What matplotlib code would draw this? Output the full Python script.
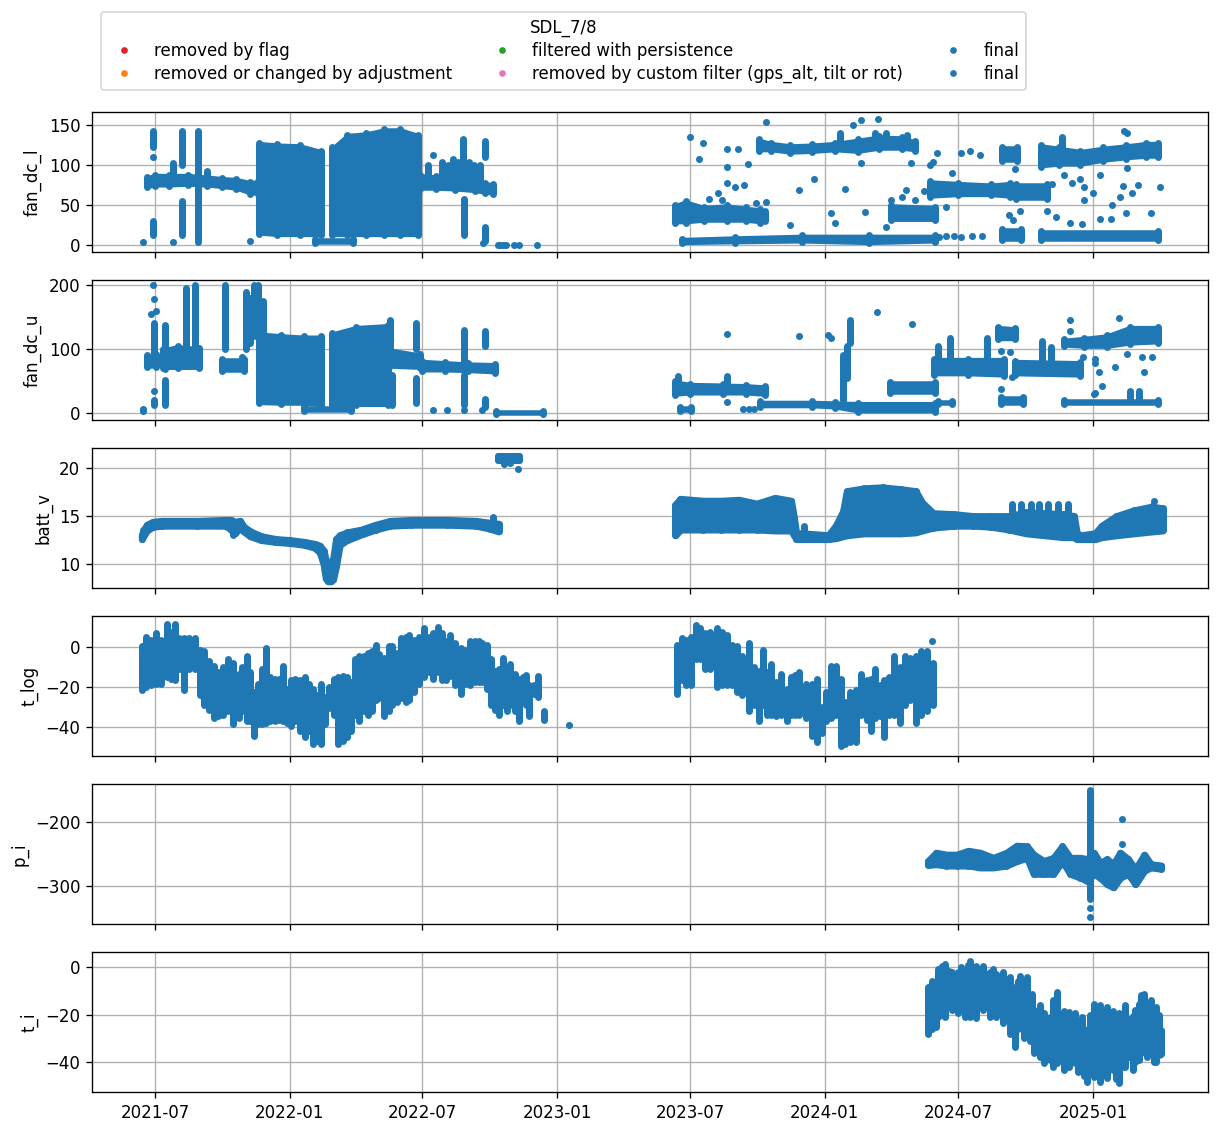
import numpy as np
import pandas as pd
import matplotlib
matplotlib.use("Agg")
import matplotlib.pyplot as plt
import matplotlib.dates as mdates
from matplotlib.lines import Line2D

# ---------------- data ----------------
# bands: (date, low, high) envelopes of dense point clouds; None separates segments
# strokes: (date, low, high) vertical runs of points; points: (date, value)

fanl_bands = [
    ("2021-06-20", 72, 85), ("2021-07-01", 74, 88), ("2021-07-20", 74, 88), ("2021-08-15", 75, 88),
    ("2021-09-10", 74, 86), ("2021-10-01", 72, 84), ("2021-10-20", 70, 83), ("2021-11-08", 64, 79),
    ("2021-11-18", 64, 80), ("2021-11-20", 14, 128), ("2021-12-15", 12, 126), ("2022-01-15", 12, 125),
    ("2022-02-12", 12, 118),
    None,
    ("2022-02-05", 3, 8), ("2022-03-28", 3, 8),
    None,
    ("2022-02-28", 12, 122), ("2022-03-20", 12, 138), ("2022-04-15", 12, 140), ("2022-05-10", 12, 145),
    ("2022-06-01", 12, 145), ("2022-06-25", 12, 138), ("2022-06-28", 70, 88), ("2022-07-20", 70, 86),
    ("2022-08-15", 69, 85), ("2022-09-10", 67, 82), ("2022-09-25", 65, 78), ("2022-10-05", 64, 76),
    None,
    ("2023-06-10", 28, 50), ("2023-06-25", 28, 55), ("2023-07-20", 30, 48), ("2023-08-20", 30, 50),
    ("2023-09-15", 30, 47), ("2023-10-05", 28, 45), ("2023-10-12", 30, 42),
    None,
    ("2023-06-20", 2, 8), ("2023-09-01", 3, 10), ("2023-12-01", 4, 12), ("2024-03-01", 2, 12),
    ("2024-05-30", 4, 12),
    None,
    ("2023-10-03", 118, 132), ("2023-10-20", 118, 128), ("2023-11-15", 115, 125), ("2023-12-15", 116, 126),
    ("2024-01-15", 118, 128), ("2024-02-15", 116, 132), ("2024-03-15", 120, 136), ("2024-04-15", 120, 135),
    ("2024-05-03", 118, 130),
    None,
    ("2024-04-01", 31, 50), ("2024-05-30", 31, 48),
    None,
    ("2024-05-23", 60, 80), ("2024-07-01", 62, 78), ("2024-08-15", 62, 76), ("2024-09-10", 60, 78),
    None,
    ("2024-09-18", 58, 76), ("2024-10-30", 58, 76),
    None,
    ("2024-08-30", 105, 122), ("2024-09-20", 105, 122),
    None,
    ("2024-08-30", 6, 20), ("2024-09-25", 6, 20),
    None,
    ("2024-10-22", 6, 18), ("2025-03-31", 6, 18),
    None,
    ("2024-10-22", 98, 125), ("2024-11-15", 100, 122), ("2024-12-15", 100, 118), ("2025-01-15", 105, 122),
    ("2025-02-15", 108, 125), ("2025-03-15", 110, 128), ("2025-03-31", 110, 128),
]
fanl_strokes = [
    ("2021-06-28", 123, 142), ("2021-06-28", 12, 30), ("2021-07-25", 80, 103), ("2021-08-07", 100, 143),
    ("2021-08-07", 12, 55), ("2021-08-28", 4, 142), ("2021-09-10", 80, 92), ("2022-07-09", 80, 100),
    ("2022-07-27", 80, 104), ("2022-08-05", 80, 100), ("2022-08-11", 80, 108), ("2022-08-18", 80, 104),
    ("2022-08-25", 80, 133), ("2022-08-26", 12, 58), ("2022-09-02", 80, 104), ("2022-09-09", 80, 100),
    ("2022-09-18", 78, 100), ("2022-09-24", 110, 130), ("2022-09-24", 5, 22), ("2024-01-22", 125, 140),
    ("2024-03-10", 125, 140), ("2024-03-25", 125, 140), ("2024-04-22", 125, 137), ("2024-11-20", 115, 135),
]
fanl_points = [
    ("2021-06-14", 4), ("2021-06-28", 110), ("2021-07-25", 4), ("2021-11-08", 5), ("2022-07-16", 113),
    ("2022-09-21", 3), ("2022-10-12", 0), ("2022-10-15", 0), ("2022-10-19", 0), ("2022-10-23", 0),
    ("2022-11-03", 0), ("2022-11-10", 0), ("2022-12-04", 0),
    ("2023-07-01", 135), ("2023-07-13", 107), ("2023-07-19", 127), ("2023-07-27", 58), ("2023-08-08", 65),
    ("2023-08-14", 56), ("2023-08-20", 120), ("2023-08-20", 97), ("2023-08-20", 78), ("2023-08-31", 72),
    ("2023-09-05", 120), ("2023-09-13", 75), ("2023-09-18", 101), ("2023-09-29", 52), ("2023-10-13", 154),
    ("2023-10-13", 54), ("2023-11-14", 25), ("2023-11-27", 69), ("2023-12-17", 83), ("2024-01-10", 40),
    ("2024-01-15", 28), ("2024-01-28", 70), ("2024-02-09", 150), ("2024-02-20", 102), ("2024-02-20", 156),
    ("2024-02-25", 41), ("2024-03-13", 158), ("2024-03-25", 22), ("2024-03-31", 56), ("2024-04-16", 60),
    ("2024-04-21", 69), ("2024-04-28", 103), ("2024-05-03", 56), ("2024-05-16", 67), ("2024-05-23", 100),
    ("2024-05-28", 104), ("2024-06-02", 115), ("2024-06-14", 47), ("2024-06-22", 90), ("2024-07-05", 115),
    ("2024-07-17", 117), ("2024-07-31", 112), ("2024-06-05", 10), ("2024-06-15", 11), ("2024-06-25", 11),
    ("2024-07-05", 10), ("2024-07-20", 11), ("2024-08-03", 11), ("2024-09-08", 37), ("2024-09-14", 31),
    ("2024-09-17", 95), ("2024-09-24", 42), ("2024-10-30", 42), ("2024-11-06", 76), ("2024-11-12", 35),
    ("2024-11-23", 87), ("2024-12-01", 27), ("2024-12-04", 77), ("2024-12-15", 83), ("2024-12-17", 26),
    ("2024-12-20", 73), ("2024-12-20", 56), ("2025-01-01", 65), ("2025-01-10", 33), ("2025-01-11", 87),
    ("2025-01-26", 33), ("2025-01-27", 50), ("2025-02-07", 60), ("2025-02-11", 74), ("2025-02-12", 142),
    ("2025-02-15", 40), ("2025-02-16", 96), ("2025-02-16", 140), ("2025-02-23", 65), ("2025-03-03", 75),
    ("2025-03-21", 40), ("2025-04-02", 72),
]

fanu_bands = [
    ("2021-06-20", 72, 90), ("2021-07-03", 72, 92),
    None,
    ("2021-07-12", 70, 100), ("2021-08-01", 70, 105), ("2021-08-30", 70, 102),
    None,
    ("2021-10-01", 65, 85), ("2021-10-30", 65, 85),
    None,
    ("2021-11-20", 15, 125), ("2021-12-20", 14, 122), ("2022-01-20", 14, 120), ("2022-02-12", 12, 120),
    None,
    ("2022-01-20", 3, 10), ("2022-03-25", 3, 10),
    None,
    ("2022-02-28", 12, 125), ("2022-04-01", 12, 135), ("2022-05-15", 12, 138), ("2022-05-16", 72, 100),
    ("2022-06-28", 70, 92), ("2022-07-01", 66, 82), ("2022-08-01", 66, 80), ("2022-09-01", 65, 78),
    ("2022-10-08", 63, 77),
    None,
    ("2022-10-10", -1, 3), ("2022-12-12", -1, 3),
    None,
    ("2023-06-10", 28, 50), ("2023-07-01", 30, 46), ("2023-08-15", 30, 45), ("2023-09-15", 30, 44),
    ("2023-10-12", 28, 42),
    None,
    ("2023-06-18", 3, 10), ("2023-07-03", 3, 10),
    None,
    ("2023-10-05", 10, 18), ("2023-12-15", 10, 18), ("2024-01-15", 8, 17), ("2024-02-15", 2, 16),
    ("2024-05-30", 2, 16),
    None,
    ("2024-03-30", 32, 48), ("2024-05-30", 32, 48),
    None,
    ("2024-06-03", 14, 18), ("2024-06-22", 14, 18),
    None,
    ("2024-05-29", 60, 85), ("2024-07-15", 60, 85), ("2024-09-02", 58, 85),
    None,
    ("2024-08-25", 115, 135), ("2024-09-17", 115, 133),
    None,
    ("2024-08-28", 14, 25), ("2024-09-28", 14, 25),
    None,
    ("2024-09-17", 60, 82), ("2024-12-15", 58, 80),
    None,
    ("2024-11-22", 14, 20), ("2025-03-31", 14, 20),
    None,
    ("2024-11-22", 105, 115), ("2024-12-20", 103, 118), ("2025-01-20", 103, 122), ("2025-02-20", 108, 135),
    ("2025-03-31", 110, 135),
]
fanu_strokes = [
    ("2021-06-30", 90, 140), ("2021-06-30", 12, 20), ("2021-07-15", 68, 138), ("2021-07-15", 12, 52),
    ("2021-08-12", 100, 195), ("2021-08-25", 100, 200), ("2021-10-05", 100, 200), ("2021-11-02", 100, 190),
    ("2021-11-08", 110, 180), ("2021-11-13", 120, 200), ("2021-11-18", 120, 200), ("2021-11-25", 110, 175),
    ("2022-05-20", 12, 60), ("2022-05-17", 100, 145), ("2022-06-22", 15, 55), ("2022-06-22", 100, 140),
    ("2022-08-27", 80, 130), ("2022-08-27", 12, 60), ("2022-09-24", 105, 128), ("2022-09-24", 10, 22),
    ("2023-06-15", 40, 58), ("2023-08-20", 40, 58), ("2024-01-26", 20, 90), ("2024-02-01", 55, 105),
    ("2024-02-05", 110, 145), ("2024-06-03", 80, 105), ("2024-06-20", 85, 118), ("2024-08-10", 85, 117),
    ("2024-10-24", 80, 113), ("2024-11-05", 80, 103), ("2025-02-20", 20, 35), ("2025-03-05", 20, 35),
]
fanu_points = [
    ("2021-06-15", 3), ("2021-06-15", 6), ("2021-06-28", 200), ("2021-06-29", 178), ("2021-07-02", 160),
    ("2021-06-26", 155), ("2021-06-30", 34), ("2021-10-28", 88), ("2022-07-16", 4), ("2022-08-04", 4),
    ("2022-08-26", 4), ("2022-09-20", 4), ("2023-08-20", 123), ("2023-08-20", 17), ("2023-09-12", 6),
    ("2023-09-20", 6), ("2023-09-27", 6), ("2023-11-27", 120), ("2024-01-05", 122), ("2024-01-10", 118),
    ("2024-03-12", 158), ("2024-04-29", 139), ("2024-08-28", 37), ("2024-08-28", 97), ("2024-09-10", 95),
    ("2024-09-13", 56), ("2024-11-30", 145), ("2024-11-30", 128), ("2024-12-19", 88), ("2025-01-04", 84),
    ("2025-01-04", 78), ("2025-01-04", 32), ("2025-01-14", 42), ("2025-01-09", 64), ("2025-01-31", 72),
    ("2025-02-17", 92), ("2025-03-09", 88), ("2025-03-12", 64), ("2025-03-22", 87), ("2025-02-05", 148),
    ("2025-01-03", 30),
]

battv_bands = [
    ("2021-06-13", 12.6, 13.0), ("2021-06-15", 12.9, 13.5), ("2021-06-20", 13.5, 14.1), ("2021-06-28", 13.9, 14.4),
    ("2021-07-10", 14.0, 14.5), ("2021-08-27", 14.0, 14.5), ("2021-10-05", 14.0, 14.6), ("2021-10-13", 13.6, 14.6),
    ("2021-10-18", 13.2, 14.4), ("2021-10-25", 13.8, 14.5), ("2021-10-30", 13.4, 13.9), ("2021-11-08", 12.9, 13.4),
    ("2021-11-23", 12.5, 12.9), ("2021-12-13", 12.3, 12.6), ("2022-01-01", 12.2, 12.5), ("2022-01-21", 12.0, 12.3),
    ("2022-02-04", 11.7, 12.1), ("2022-02-11", 11.2, 11.9), ("2022-02-16", 10.0, 11.4), ("2022-02-19", 8.5, 10.4),
    ("2022-02-22", 8.2, 9.2), ("2022-02-26", 8.2, 9.0), ("2022-03-01", 8.4, 10.5), ("2022-03-05", 9.8, 12.6),
    ("2022-03-10", 12.0, 13.0), ("2022-03-20", 12.5, 13.3), ("2022-04-09", 13.1, 13.6), ("2022-04-28", 13.6, 14.1),
    ("2022-05-18", 14.0, 14.5), ("2022-06-16", 14.1, 14.6), ("2022-08-04", 14.1, 14.6), ("2022-09-12", 14.0, 14.5),
    ("2022-10-01", 13.7, 14.3), ("2022-10-13", 13.4, 14.2),
    None,
    ("2022-10-12", 20.8, 21.3), ("2022-11-10", 20.8, 21.3),
    None,
    ("2023-06-11", 13.0, 16.2), ("2023-06-18", 13.6, 16.8), ("2023-07-19", 13.6, 16.6), ("2023-08-12", 13.6, 16.6),
    ("2023-09-06", 13.6, 16.7), ("2023-09-30", 13.6, 16.3), ("2023-10-25", 13.5, 16.9), ("2023-11-16", 13.5, 16.6),
    ("2023-11-20", 13.0, 14.8), ("2023-11-23", 12.6, 13.2), ("2023-12-03", 12.6, 13.2), ("2024-01-06", 12.6, 13.0),
    ("2024-01-16", 12.7, 14.0), ("2024-01-26", 12.9, 15.5), ("2024-01-31", 13.0, 17.6), ("2024-02-24", 13.2, 17.9),
    ("2024-03-20", 13.2, 18.0), ("2024-04-14", 13.2, 17.8), ("2024-05-04", 13.3, 17.6), ("2024-05-13", 13.5, 16.4),
    ("2024-05-28", 13.8, 15.3), ("2024-06-26", 14.0, 15.2), ("2024-07-21", 14.0, 15.0), ("2024-08-14", 13.9, 15.0),
    ("2024-09-08", 13.6, 15.0), ("2024-10-02", 13.2, 15.4), ("2024-10-27", 13.0, 15.3), ("2024-11-21", 12.8, 15.2),
    ("2024-12-06", 12.8, 15.0), ("2024-12-10", 12.6, 13.2), ("2024-12-15", 12.6, 13.0), ("2025-01-04", 12.6, 13.2),
    ("2025-01-13", 12.8, 14.0), ("2025-02-02", 13.0, 15.0), ("2025-02-26", 13.2, 15.6), ("2025-03-23", 13.4, 16.0),
    ("2025-04-06", 13.5, 15.8),
]
battv_strokes = [
    ("2021-10-15", 13.0, 14.2), ("2022-10-05", 14.0, 14.9), ("2023-12-04", 12.8, 14.0),
    ("2024-09-12", 14.0, 16.3), ("2024-09-25", 14.0, 16.3), ("2024-10-08", 14.0, 16.3), ("2024-10-20", 14.0, 16.3),
    ("2024-11-01", 14.0, 16.3), ("2024-11-14", 14.0, 16.3), ("2024-11-28", 14.0, 16.3),
]
battv_points = [("2022-11-08", 19.9), ("2022-10-20", 20.4), ("2022-10-28", 20.5), ("2025-03-25", 16.6)]

tlog_bands = []
tlog_strokes = [
    ("2021-06-13", -21.6, 0.3), ("2021-06-19", -20, 5.2), ("2021-06-26", -19.2, 3.6), ("2021-07-03", -18.4, 6.8),
    ("2021-07-09", -18.4, 3.6), ("2021-07-17", -15.1, 11.4), ("2021-07-23", -15.9, 7.6), ("2021-07-28", -16.7, 11.7),
    ("2021-08-03", -11, 4.4), ("2021-08-10", -21.6, 4.4), ("2021-08-17", -11, 4.4), ("2021-08-24", -11, 4.4),
    ("2021-08-31", -24, -1.3), ("2021-09-06", -29, -2.1), ("2021-09-12", -31.4, -7), ("2021-09-19", -35.4, -9.4),
    ("2021-09-25", -34.6, -12.7), ("2021-10-02", -33.8, -10.2), ("2021-10-09", -32.2, -6.2), ("2021-10-16", -38.7, -7.8),
    ("2021-10-23", -35.4, -13.5), ("2021-10-28", -32.2, -10.2), ("2021-11-03", -37, -4.6), ("2021-11-08", -37, -12.7),
    ("2021-11-13", -44.4, -22.4), ("2021-11-19", -38.7, -18.4), ("2021-11-24", -38.7, -11), ("2021-11-29", -37.9, -0.5),
    ("2021-12-05", -37, -15.1), ("2021-12-12", -37, -15.9), ("2021-12-17", -36.3, -15.9), ("2021-12-22", -37, -9.4),
    ("2021-12-28", -37.9, -20.8), ("2022-01-03", -39.5, -16.7), ("2022-01-08", -37, -15.9), ("2022-01-15", -42, -16.7),
    ("2022-01-22", -45.2, -15.1), ("2022-01-27", -42, -18.4), ("2022-02-01", -48.5, -20.8), ("2022-02-07", -46.8, -24),
    ("2022-02-13", -48.5, -18.4), ("2022-02-18", -38.7, -24.9), ("2022-02-24", -30.6, -20), ("2022-03-02", -33.8, -15.9),
    ("2022-03-08", -48.5, -15.1), ("2022-03-14", -46.8, -14.3), ("2022-03-20", -45.2, -15.1), ("2022-03-26", -42, -17.6),
    ("2022-03-31", -33.8, -6.2), ("2022-04-06", -37, -4.6), ("2022-04-12", -32.2, -4.6), ("2022-04-18", -33.8, -2.9),
    ("2022-04-23", -32.2, -2.1), ("2022-04-28", -26.5, 1.1), ("2022-05-03", -25.7, -3.7), ("2022-05-09", -34.6, -5.4),
    ("2022-05-16", -32.2, 0.3), ("2022-05-21", -29, 0.3), ("2022-05-27", -27.3, -2.9), ("2022-06-02", -25.7, 4.4),
    ("2022-06-08", -27.3, 5.2), ("2022-06-13", -26.5, 6), ("2022-06-19", -22.4, 3.6), ("2022-06-26", -18.4, 5.2),
    ("2022-07-03", -15.1, 9.3), ("2022-07-10", -12.7, 5.2), ("2022-07-15", -15.9, 6.8), ("2022-07-22", -12.7, 10.1),
    ("2022-07-28", -16.7, 6.8), ("2022-08-02", -16.7, 2.8), ("2022-08-08", -14.3, 6), ("2022-08-15", -19.2, 2),
    ("2022-08-23", -23.3, -0.5), ("2022-08-28", -18.4, -1.3), ("2022-09-04", -19.2, 2.8), ("2022-09-11", -17.6, 2.8),
    ("2022-09-16", -17.6, 2.8), ("2022-09-20", -17.6, 2), ("2022-09-27", -20.8, 1.1), ("2022-10-02", -29, -6.2),
    ("2022-10-08", -31.4, -11.9), ("2022-10-14", -33.8, -11), ("2022-10-19", -29, -5.4), ("2022-10-25", -32.2, -11.9),
    ("2022-10-29", -29, -8.6), ("2022-11-04", -32.2, -13.5), ("2022-11-10", -37, -15.9), ("2022-11-15", -21.6, -15.1),
    ("2022-11-19", -29, -14), ("2022-11-24", -34.6, -19.2), ("2022-11-30", -23.3, -19.2), ("2022-12-06", -24.9, -14.3),
    ("2022-12-10", -21, -21), ("2022-12-14", -36.3, -32.2),
    ("2023-06-14", -23.3, 1.1), ("2023-06-20", -16.7, 4.4), ("2023-06-25", -19.2, 3.6), ("2023-07-02", -19.2, 5.2),
    ("2023-07-09", -6.2, 10.9), ("2023-07-15", -6.2, 9.3), ("2023-07-22", -11, 6.8), ("2023-07-29", -11, 7.6),
    ("2023-08-07", -20, 9.3), ("2023-08-14", -19.2, 7.6), ("2023-08-21", -19.2, 6), ("2023-08-28", -19.2, 1.1),
    ("2023-09-03", -22.4, 0.3), ("2023-09-10", -24, -4.6), ("2023-09-19", -32, 2), ("2023-09-26", -29, -10.2),
    ("2023-10-03", -37, -11.9), ("2023-10-09", -29, -1.3), ("2023-10-14", -33.8, -12.7), ("2023-10-20", -33.8, -8.6),
    ("2023-10-26", -34.6, -17.6), ("2023-11-02", -33.8, -13.5), ("2023-11-10", -37, -20.8), ("2023-11-16", -33.8, -15.1),
    ("2023-11-21", -33.8, -14), ("2023-11-27", -33.8, -12.7), ("2023-12-06", -35.4, -18.4), ("2023-12-14", -44.4, -18.4),
    ("2023-12-21", -47.6, -15.9), ("2023-12-28", -42.8, -29.8), ("2024-01-03", -37, -22.4), ("2024-01-09", -35.4, -9.4),
    ("2024-01-16", -33.8, -9.4), ("2024-01-23", -49.3, -15.9), ("2024-01-29", -48.5, -27.3), ("2024-02-05", -47.6, -22.4),
    ("2024-02-12", -47.6, -21.6), ("2024-02-20", -33.8, -13.5), ("2024-02-27", -36.3, -16.7), ("2024-03-04", -42, -15.9),
    ("2024-03-10", -35.4, -11), ("2024-03-17", -34.6, -19.2), ("2024-03-22", -45.2, -16.7), ("2024-03-28", -33.8, -15.1),
    ("2024-04-05", -33.8, -4.6), ("2024-04-12", -37.9, -10.2), ("2024-04-19", -29, -4.6), ("2024-04-26", -26.5, -5.4),
    ("2024-05-05", -37.9, -4.6), ("2024-05-12", -33.8, -2.1), ("2024-05-19", -32.2, -2.1), ("2024-05-28", -29, -7.8),
]
tlog_points = [("2023-01-17", -39), ("2024-05-26", 2.8)]

pi_bands = [
    ("2024-05-21", -267, -261), ("2024-06-01", -266, -248), ("2024-06-15", -268, -251), ("2024-06-29", -268, -251),
    ("2024-07-15", -268, -245), ("2024-07-31", -271, -248), ("2024-08-18", -271, -256), ("2024-09-05", -268, -248),
    ("2024-09-19", -261, -237), ("2024-10-03", -256, -238), ("2024-10-12", -281, -251), ("2024-10-26", -281, -261),
    ("2024-11-08", -281, -256), ("2024-11-20", -261, -238), ("2024-12-01", -281, -256), ("2024-12-15", -287, -256),
    ("2024-12-24", -292, -258), ("2025-01-02", -281, -248), ("2025-01-11", -287, -264), ("2025-01-20", -297, -258),
    ("2025-01-29", -302, -266), ("2025-02-07", -287, -248), ("2025-02-18", -281, -258), ("2025-02-28", -297, -274),
    ("2025-03-12", -276, -251), ("2025-03-21", -271, -266), ("2025-04-04", -273, -268),
]
pi_strokes = [("2024-12-28", -320, -150)]
pi_points = [("2024-12-28", -334), ("2024-12-28", -349), ("2025-02-09", -196), ("2025-02-09", -234)]

ti_bands = []
ti_strokes = [
    ("2024-05-21", -28, -8.5), ("2024-05-26", -26, -6), ("2024-06-01", -25.2, -7.1), ("2024-06-04", -21, -0.8),
    ("2024-06-09", -20, 0.5), ("2024-06-13", -21, 1.3), ("2024-06-18", -16, -1.5), ("2024-06-22", -18.2, -2.2),
    ("2024-06-27", -15, -3), ("2024-07-01", -19.5, -2.2), ("2024-07-05", -16, 0), ("2024-07-10", -21, -1.5),
    ("2024-07-14", -18, 1), ("2024-07-17", -21, 2.7), ("2024-07-22", -17, -1), ("2024-07-26", -21.5, 0.5),
    ("2024-07-30", -16, -2), ("2024-08-04", -18.2, 0.5), ("2024-08-09", -15, -3), ("2024-08-13", -21, -2.2),
    ("2024-08-18", -17, -1), ("2024-08-22", -21, -2.9), ("2024-08-27", -18, -4), ("2024-08-31", -23.5, -2.2),
    ("2024-09-05", -20, -5), ("2024-09-10", -28, -4.3), ("2024-09-14", -24, -9), ("2024-09-17", -33.5, -8.5),
    ("2024-09-21", -26, -6), ("2024-09-24", -23.5, -3.6), ("2024-09-29", -30, -8), ("2024-10-03", -26.5, -4.3),
    ("2024-10-07", -31, -12), ("2024-10-10", -30.5, -11.3), ("2024-10-13", -36, -18), ("2024-10-16", -33.5, -19.5),
    ("2024-10-21", -38, -16), ("2024-10-26", -40.5, -19.5), ("2024-10-30", -36, -22), ("2024-11-04", -39.2, -21.2),
    ("2024-11-08", -42, -14), ("2024-11-13", -40.5, -10.5), ("2024-11-17", -38, -20), ("2024-11-22", -43.5, -18.5),
    ("2024-11-25", -40, -22), ("2024-11-29", -42, -19), ("2024-12-03", -38, -21), ("2024-12-08", -40.5, -19.5),
    ("2024-12-12", -44, -24), ("2024-12-17", -43.5, -21.2), ("2024-12-20", -46, -26), ("2024-12-24", -48.5, -31),
    ("2024-12-28", -44, -20), ("2025-01-02", -46.2, -15.5), ("2025-01-06", -42, -20), ("2025-01-11", -48.5, -16.2),
    ("2025-01-15", -44, -22), ("2025-01-20", -46.5, -16.9), ("2025-01-24", -40, -20), ("2025-01-29", -43.5, -18.5),
    ("2025-02-01", -47, -22), ("2025-02-05", -49, -19.5), ("2025-02-09", -42, -20), ("2025-02-14", -42, -16.2),
    ("2025-02-19", -38, -22), ("2025-02-24", -43.5, -20.5), ("2025-02-28", -40, -18), ("2025-03-05", -39.2, -15.5),
    ("2025-03-08", -36, -12), ("2025-03-12", -33.5, -11.3), ("2025-03-16", -38, -16), ("2025-03-21", -36.5, -14.1),
    ("2025-03-25", -40, -18), ("2025-03-28", -39.9, -16.9), ("2025-04-01", -37, -20), ("2025-04-04", -36.5, -26.5),
]
ti_points = []

panel_names = ["fan_dc_l", "fan_dc_u", "batt_v", "t_log", "p_i", "t_i"]
panel_ylims = [(-8.75, 166.25), (-11, 208), (7.5, 22.1), (-54.5, 15.5), (-359.4, -140.6), (-52.6, 6.3)]
panel_yticks = [[0, 50, 100, 150], [0, 100, 200], [10, 15, 20], [-40, -20, 0], [-300, -200], [-40, -20, 0]]
x_ticks = ["2021-07-01", "2022-01-01", "2022-07-01", "2023-01-01", "2023-07-01",
           "2024-01-01", "2024-07-01", "2025-01-01"]
x_range = ("2021-04-06", "2025-06-07")

legend_labels = ["removed by flag", "removed or changed by adjustment", "filtered with persistence",
                 "removed by custom filter (gps_alt, tilt or rot)", "final", "final"]
legend_colors = ["tab:red", "tab:orange", "tab:green", "tab:pink", "tab:blue", "tab:blue"]
legend_title = "SDL_7/8"

# ---------------- drawing ----------------
BLUE = "tab:blue"
DOT_LW = 4.2      # points; equals the marker diameter


def to_dt(seq):
    return pd.to_datetime(list(seq)).values


def segments(rows):
    segs, cur = [], []
    for r in rows:
        if r is None:
            if cur:
                segs.append(cur)
            cur = []
        else:
            cur.append(r)
    if cur:
        segs.append(cur)
    return segs


def draw(ax, bands, strokes, points, edge_lw):
    for seg in segments(bands):
        d = to_dt(r[0] for r in seg)
        lo = [r[1] for r in seg]
        hi = [r[2] for r in seg]
        ax.fill_between(d, lo, hi, facecolor=BLUE, edgecolor=BLUE, linewidth=edge_lw,
                        joinstyle="round", zorder=2)
        ax.vlines(d, lo, hi, colors=BLUE, linewidth=DOT_LW, capstyle="round", zorder=2)
    if strokes:
        ax.vlines(to_dt(r[0] for r in strokes), [r[1] for r in strokes], [r[2] for r in strokes],
                  colors=BLUE, linewidth=DOT_LW, capstyle="round", zorder=2)
    if points:
        ax.scatter(to_dt(r[0] for r in points), [r[1] for r in points], s=DOT_LW ** 2, color=BLUE,
                   linewidths=0, zorder=2)


W, H, DPI = 1220, 1131, 120
fig = plt.figure(figsize=(W / DPI, H / DPI), dpi=DPI)

series = [
    (fanl_bands, fanl_strokes, fanl_points, 1.5),
    (fanu_bands, fanu_strokes, fanu_points, 1.5),
    (battv_bands, battv_strokes, battv_points, DOT_LW),
    (tlog_bands, tlog_strokes, tlog_points, 1.5),
    (pi_bands, pi_strokes, pi_points, DOT_LW),
    (ti_bands, ti_strokes, ti_points, 1.5),
]

axes = []
left_px, right_px, top0, h_px, step = 92, 1208, 112, 140, 168
for i, (b, s, p, elw) in enumerate(series):
    top = top0 + step * i
    rect = [left_px / W, 1 - (top + h_px) / H, (right_px - left_px) / W, h_px / H]
    ax = fig.add_axes(rect, sharex=axes[0] if axes else None)
    draw(ax, b, s, p, elw)
    ax.set_ylim(*panel_ylims[i])
    ax.set_yticks(panel_yticks[i])
    ax.set_ylabel(panel_names[i])
    ax.grid(True)
    axes.append(ax)

axes[0].set_xlim(pd.to_datetime(x_range[0]), pd.to_datetime(x_range[1]))
axes[0].set_xticks(to_dt(x_ticks))
axes[0].xaxis.set_major_formatter(mdates.DateFormatter("%Y-%m"))
for ax in axes[:-1]:
    ax.tick_params(labelbottom=False)

handles = [Line2D([], [], marker="o", linestyle="none", color=c, markersize=3) for c in legend_colors]
fig.legend(handles, legend_labels, title=legend_title, ncol=3, loc="upper left",
           bbox_to_anchor=(101 / W, 1 - 12 / H), borderaxespad=0, labelspacing=0.3)

fig.savefig("out.png", dpi=DPI)
